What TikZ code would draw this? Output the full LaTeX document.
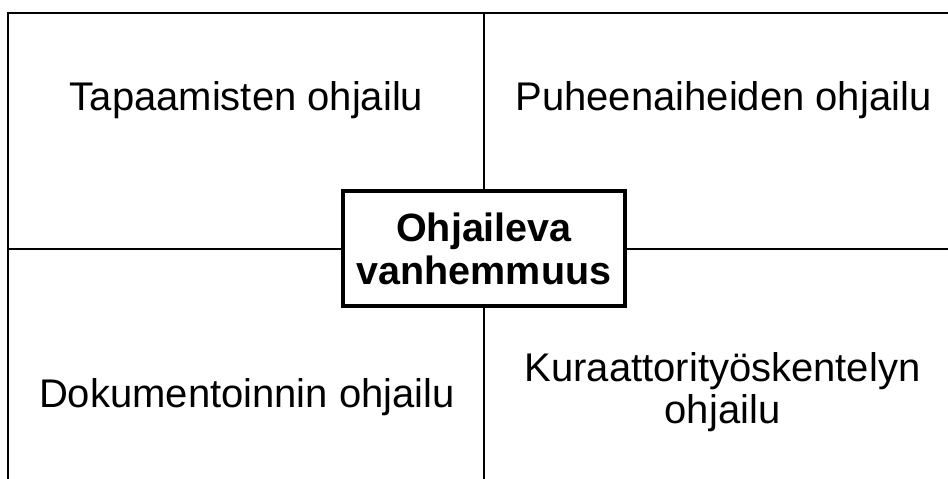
\documentclass[tikz,border=0pt]{standalone}
\usepackage{fontspec}
\setmainfont{Liberation Sans}
\usetikzlibrary{positioning}

\begin{document}
\begin{tikzpicture}[x=1pt, y=-1pt,
        quadrant/.style={font=\fontsize{40}{42}\selectfont, align=center, inner sep=0pt},
        core/.style={draw=black, fill=white, line width=4.5pt,
                     minimum width=282pt, minimum height=115pt, inner sep=0pt,
                     align=center, font=\fontsize{39.5}{43}\selectfont\bfseries},
        divider/.style={draw=black, line width=2pt},
        ]

        \useasboundingbox (0,0) rectangle (948,479);

        % frame and cross
        \coordinate (frameNE) at (948,13);
        \coordinate (frameNW) at (8,13);
        \coordinate (frameSW) at (8,479);
        \coordinate (crossN) at (484,13);
        \coordinate (crossS) at (484,479);
        \coordinate (crossW) at (8,249);
        \coordinate (crossE) at (948,249);

        \draw [divider] (frameNE) -- (frameNW) -- (frameSW);
        \draw [divider] (crossN) -- (crossS);
        \draw [divider] (crossW) -- (crossE);

        \node (meetings) [quadrant, anchor=base] at (246.5,110) {Tapaamisten ohjailu};
        \node (topics) [quadrant, anchor=base] at (723.5,110) {Puheenaiheiden ohjailu};
        \node (documents) [quadrant, anchor=base] at (247,407) {Dokumentoinnin ohjailu};
        \node (curation) [quadrant] at (722.5,392.5) {Kuraattorityöskentelyn\\ohjailu};

        \node (parenting) [core] at (484,248.5) {Ohjaileva\\vanhemmuus};

    \end{tikzpicture}
\end{document}
